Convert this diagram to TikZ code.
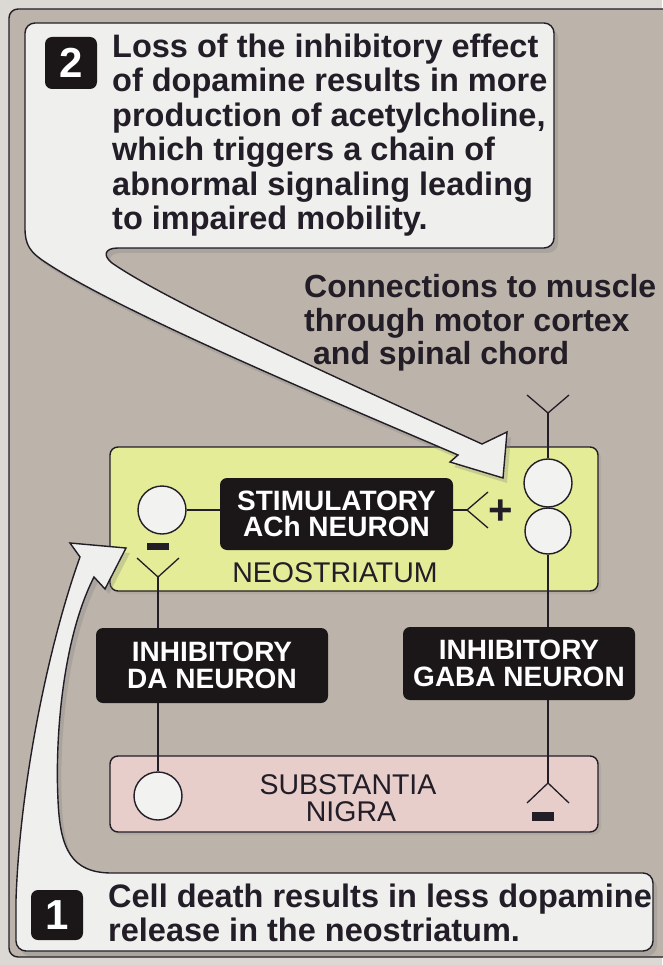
\documentclass[tikz,border=0pt]{standalone}
\usepackage{fontspec}
\setmainfont{Liberation Sans}
\usetikzlibrary{shadows}
\definecolor{bgc}{HTML}{BCB4AA}
\definecolor{marginc}{HTML}{DCD9D4}
\definecolor{ink}{HTML}{221D26}
\definecolor{calloutc}{HTML}{EFEFED}
\definecolor{neoc}{HTML}{E5EC98}
\definecolor{nigrac}{HTML}{E7CECB}
\definecolor{cellc}{HTML}{F2F2F0}
\definecolor{labelc}{HTML}{1B1719}
\begin{document}
\begin{tikzpicture}[x=1pt,y=-1pt,
  edge/.style={draw=ink, line width=1.3pt},
  neuron/.style={circle, draw=ink, line width=1.4pt, fill=cellc, minimum size=#1, inner sep=0pt},
  neuron/.default=48pt,
  blacklabel/.style={rounded corners=7pt, fill=labelc, text=white, font=\fontsize{28}{26.5}\selectfont\bfseries, align=center, inner sep=0pt},
  region/.style={rounded corners=8pt, draw=ink, line width=1.4pt, inner sep=0pt, drop shadow={shadow xshift=3pt, shadow yshift=-3pt, opacity=0.18}},
  bigtext/.style={anchor=base west, inner sep=0pt, text=ink, font=\fontsize{32.5}{32.5}\selectfont\bfseries},
  midtext/.style={anchor=base west, inner sep=0pt, text=ink, font=\fontsize{32}{32}\selectfont\bfseries},
  areatext/.style={anchor=base, inner sep=0pt, text=ink, font=\fontsize{28.5}{28.5}\selectfont},
  bar/.style={fill=ink, minimum width=22pt, minimum height=#1, inner sep=0pt},
  badge/.style={fill=labelc, rounded corners=7pt, text=white, font=\fontsize{42}{42}\selectfont\bfseries, minimum width=52pt, minimum height=#1, inner sep=0pt},
  callout/.style={draw=ink, line width=1.4pt, fill=calloutc, drop shadow={shadow xshift=4pt, shadow yshift=-5pt, opacity=0.3}}
]
% background and frame
\fill[marginc] (0,0) rectangle (662,965);
\useasboundingbox (0,0) rectangle (662,965);
\draw[draw=ink, line width=1.4pt, fill=bgc, rounded corners=9pt] (9,9) rectangle (676,957);

% regions
\node[region, fill=neoc, minimum width=488pt, minimum height=144pt] (neo) at (354,519) {};
\node[region, fill=nigrac, minimum width=488pt, minimum height=76pt] (sn) at (354,794) {};

% neurons
\node[neuron] (ach) at (162,510) {};
\node[neuron] (gu) at (548,483) {};
\node[neuron=46pt] (gl) at (548,531) {};
\node[neuron] (da) at (158,796) {};

% labels
\node[blacklabel, minimum width=233pt, minimum height=72pt] (stim) at (336.5,514) {STIMULATORY\\ACh NEURON};
\node[blacklabel, minimum width=232pt, minimum height=75pt] (dalab) at (212,665.5) {INHIBITORY\\DA NEURON};
\node[blacklabel, minimum width=232pt, minimum height=73pt] (gaba) at (519,663.5) {INHIBITORY\\GABA NEURON};

% synapse points
\coordinate (synv) at (467,510);
\coordinate (syna) at (488,492);
\coordinate (synb) at (488,528);
\coordinate (ytopv) at (548,413);
\coordinate (ytopa) at (527,395);
\coordinate (ytopb) at (569,395);
\coordinate (ylv) at (158,577);
\coordinate (yla) at (137,558);
\coordinate (ylb) at (179,558);
\coordinate (lamv) at (548,783);
\coordinate (lama) at (527,803);
\coordinate (lamb) at (569,803);

% connections
\draw[edge] (ach.east) -- (ach.east -| stim.west);
\draw[edge] (ach.east -| stim.east) -- (synv);
\draw[edge] (syna) -- (synv) -- (synb);
\draw[edge] (ytopa) -- (ytopv) -- (ytopb);
\draw[edge] (ytopv) -- (gu.north);
\draw[edge] (gl.south) -- (gl.south |- gaba.north);
\draw[edge] (gl.south |- gaba.south) -- (lamv);
\draw[edge] (lama) -- (lamv) -- (lamb);
\draw[edge] (yla) -- (ylv) -- (ylb);
\draw[edge] (ylv) -- (ylv |- dalab.north);
\draw[edge] (ylv |- dalab.south) -- (da.north);

% signs
\node[inner sep=0pt, text=ink, font=\fontsize{42}{42}\selectfont\bfseries] (plus) at (501,512) {+};
\node[bar=7pt] (minusl) at (158,546.5) {};
\node[bar=9pt] (minusr) at (543,816.5) {};

% area names
\node[areatext] (neotext) at (335,582) {NEOSTRIATUM};
\node[areatext] (sntext1) at (348,794) {SUBSTANTIA};
\node[areatext] (sntext2) at (351,821) {NIGRA};

% callout 2
\path[callout] (35,23) -- (544,23) arc[start angle=-90, end angle=0, radius=10]
  -- (554,238) arc[start angle=0, end angle=90, radius=10]
  -- (118,248)
  .. controls (104,248) and (103,256) .. (112,263)
  .. controls (165,300) and (330,375) .. (482,444)
  -- (507,432) -- (503,478) -- (450,462) -- (458,455)
  .. controls (330,400) and (120,312) .. (45,262)
  .. controls (30,252) and (25,245) .. (25,228)
  -- (25,33) arc[start angle=180, end angle=270, radius=10] -- cycle;
\node[badge=52pt] (b2) at (71,63) {2};
\node[bigtext] (t2a) at (112,57.5) {Loss of the inhibitory effect};
\node[bigtext] (t2b) at (112,92) {of dopamine results in more};
\node[bigtext] (t2c) at (112,126.5) {production of acetylcholine,};
\node[bigtext] (t2d) at (112,161) {which triggers a chain of};
\node[bigtext] (t2e) at (112,195.5) {abnormal signaling leading};
\node[bigtext] (t2f) at (112,230) {to impaired mobility.};

% callout 1
\path[callout] (112,873) -- (643,873) arc[start angle=-90, end angle=0, radius=10]
  -- (653,941) arc[start angle=0, end angle=90, radius=10]
  -- (26,951) arc[start angle=90, end angle=180, radius=10]
  -- (16,900)
  .. controls (20,780) and (50,640) .. (80,557)
  -- (70,543) -- (126,548) -- (105,589) -- (94,577)
  .. controls (62,640) and (55,740) .. (58,800)
  .. controls (60,850) and (72,873) .. (112,873) -- cycle;
\node[badge=50pt] (b1) at (57,915) {1};
\node[bigtext] (t1a) at (108,907) {Cell death results in less dopamine};
\node[bigtext] (t1b) at (108,941) {release in the neostriatum.};

% connections text
\node[midtext] (c1) at (304,298) {Connections to muscle};
\node[midtext] (c2) at (304,331) {through motor cortex};
\node[midtext] (c3) at (313,364) {and spinal chord};
\end{tikzpicture}
\end{document}
